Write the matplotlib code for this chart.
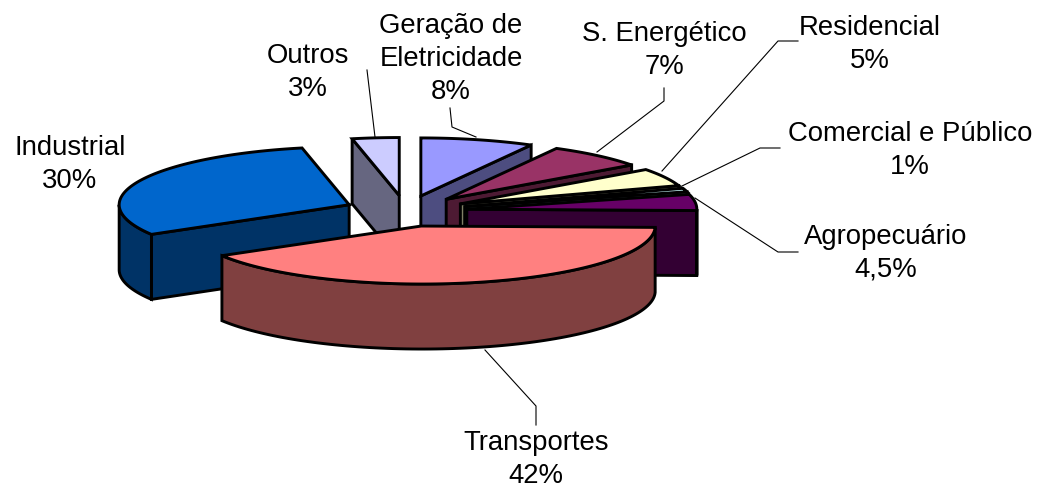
import numpy as np
import matplotlib
matplotlib.use('Agg')
import matplotlib.pyplot as plt

plt.rcParams['font.family'] = ['Liberation Sans', 'DejaVu Sans']

names = ['Geração de\nEletricidade', 'S. Energético', 'Residencial', 'Comercial e Público',
         'Agropecuário', 'Transportes', 'Industrial', 'Outros']
# slice sizes as measured on the picture, the printed labels are rounded
values = [8, 7, 5, 1, 4.5, 41.3, 30.4, 3.3]
value_labels = ['8%', '7%', '5%', '1%', '4,5%', '42%', '30%', '3%']
colors = ['#9999FF', '#993366', '#FFFFCC', '#CCFFFF', '#660066', '#FF8080', '#0066CC', '#CCCCFF']
wall_colors = ['#4D4D80', '#4D1A33', '#808066', '#668080', '#330033', '#804040', '#003366', '#666680']

# pie geometry in pixels
cx, cy = 405.6, 211
rx, ry = 230, 58
explode = 0.268
depth = 65
edge = 2.1
nudge = [0, 0, 0, 0, 0, 1, 0, 0]
widen = [1, 1, 1, 1, 1, 1.013, 1, 1]

# label centre (x, y of first line) and leader points
label_pos = [(451, 26), (664, 34), (870, 28), (910, 134), (886, 237), (536, 443.5), (70, 148), (308, 56)]
leaders = [[(450, 108), (452, 127), (476, 137)], [(664, 88), (664, 101), (597, 152)],
           [(798, 41), (778, 41), (662, 171)], [(780, 148), (760, 148), (682, 186)],
           [(798, 252), (778, 252), (695, 198)], [(536, 425), (536, 406), (485, 350)],
           [], [(367, 70), (375, 137)]]
draw_order = [7, 0, 1, 2, 3, 4, 6, 5]

fracs = np.array(values) / sum(values) * 360
ends = np.cumsum(fracs)
starts = ends - fracs


def point(ang, w=1):
    a = np.radians(ang)
    return cx + w * rx * np.sin(a), cy - ry * np.cos(a)


def shape(xs, ys, color):
    plt.fill(xs, ys, facecolor=color, edgecolor='black', linewidth=edge, joinstyle='miter', zorder=2)


def wall(apex, ang, off, color):
    x, y = point(ang)
    shape([apex[0], x + off[0], x + off[0], apex[0]],
          [apex[1], y + off[1], y + off[1] + depth, apex[1] + depth], color)


fig = plt.figure(figsize=(10.38, 4.88), dpi=100)
ax = fig.add_axes([0, 0, 1, 1])
ax.set_xlim(0, 1038)
ax.set_ylim(488, 0)
ax.axis('off')

for i in draw_order:
    a0, a1 = starts[i], ends[i]
    mid = (a0 + a1) / 2
    ox = explode * rx * np.sin(np.radians(mid)) + nudge[i]
    oy = -explode * ry * np.cos(np.radians(mid))
    apex = (cx + ox - nudge[i], cy + oy)
    if np.sin(np.radians(a0)) < 0:
        wall(apex, a0, (ox, oy), wall_colors[i])
    if np.sin(np.radians(a1)) > 0:
        wall(apex, a1, (ox, oy), wall_colors[i])
    lo, hi = max(a0, 90), min(a1, 270)
    if lo < hi:
        t = np.linspace(lo, hi, 100)
        px, py = point(t, widen[i])
        shape(np.r_[px, px[::-1]] + ox, np.r_[py, py[::-1] + depth] + oy, wall_colors[i])
    t = np.linspace(a0, a1, 100)
    px, py = point(t, widen[i])
    shape(np.r_[apex[0], px + ox], np.r_[apex[1], py + oy], colors[i])

for i in range(len(names)):
    x, y = label_pos[i]
    lines = names[i].split('\n') + [value_labels[i]]
    for k, line in enumerate(lines):
        ax.text(x, y + k * 32.8, line, ha='center', va='center', fontsize=19.8, color='black')
    if leaders[i]:
        plt.plot([p[0] for p in leaders[i]], [p[1] for p in leaders[i]], color='black', linewidth=0.8, zorder=1)

fig.savefig('out.png', dpi=100)
